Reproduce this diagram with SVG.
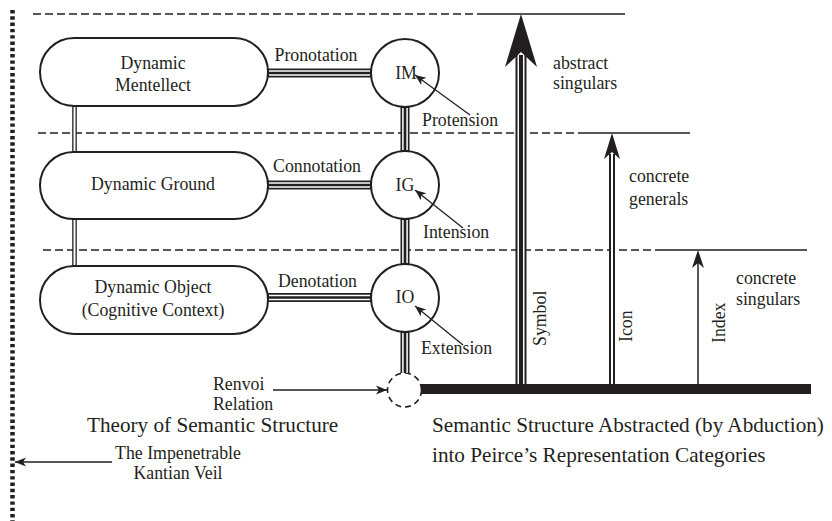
<svg xmlns="http://www.w3.org/2000/svg" width="832" height="521" viewBox="0 0 832 521">
<defs>
<style>
text{font-family:"Liberation Serif","Times New Roman",serif;font-size:17.8px;fill:#231f20}
.t{font-size:21.2px}
.m{text-anchor:middle}
.node{fill:#fff;stroke:#231f20;stroke-width:2}
.dash{fill:none;stroke:#231f20;stroke-width:1.3;stroke-dasharray:8 4}
.solid{fill:none;stroke:#231f20;stroke-width:1.6}
.k{stroke:#231f20;fill:none}
.w{stroke:#fff;fill:none}
.ptr{stroke:#231f20;stroke-width:1.3;fill:none;marker-end:url(#ah)}
.head{fill:#231f20;stroke:none}
</style>
<marker id="ah" viewBox="-12 -6 13 12" refX="0" refY="0" markerWidth="13" markerHeight="12" markerUnits="userSpaceOnUse" orient="auto">
<path d="M0,0 L-11,-4.5 L-8,0 L-11,4.5 Z" fill="#231f20"/>
</marker>
</defs>
<rect width="832" height="521" fill="#fff"/>
<g id="guides">
<line x1="12.5" y1="10" x2="12.5" y2="521" stroke="#231f20" stroke-width="4.5" stroke-dasharray="3.4 2.9"/>
<path class="dash" d="M33,14H482M38,133H584M43,250H657"/>
<path class="solid" d="M482,14H625M584,133H690M657,250H807"/>
</g>
<g id="dynamic-mentellect">
<rect class="node" x="40" y="38" width="228" height="68" rx="34"/>
<text class="m" x="153" y="69">Dynamic</text>
<text class="m" x="153" y="91">Mentellect</text>
</g>
<g id="dynamic-ground">
<rect class="node" x="40" y="152" width="228" height="67" rx="33.5"/>
<text class="m" x="153" y="190">Dynamic Ground</text>
</g>
<g id="dynamic-object">
<rect class="node" x="40" y="266" width="228" height="68" rx="34"/>
<text class="m" x="153" y="293">Dynamic Object</text>
<text class="m" x="153" y="316">(Cognitive Context)</text>
</g>
<g id="im">
<circle class="node" cx="405" cy="73" r="34"/>
<text class="m" x="406" y="79">IM</text>
</g>
<g id="ig">
<circle class="node" cx="405" cy="185" r="34"/>
<text class="m" x="405" y="191">IG</text>
</g>
<g id="io">
<circle class="node" cx="405" cy="298" r="34"/>
<text class="m" x="405" y="303">IO</text>
</g>
<g id="renvoi">
<circle cx="404.5" cy="390" r="17" fill="none" stroke="#231f20" stroke-width="1.6" stroke-dasharray="6 4"/>
</g>
<g id="connectors">
<path class="k" stroke-width="4.6" d="M74.5,106V152M74.5,219V266"/>
<path class="w" stroke-width="2" d="M74.5,107V151M74.5,220V265"/>
<path class="k" stroke-width="9" d="M268,73H371M268,185H371M268,297.5H371M405,107V151M405,219V264M405,332V373"/>
<path class="w" stroke-width="5.7" d="M269,73H370M269,185H370M269,297.5H370M405,108V150M405,220V263M405,333V373"/>
<path class="k" stroke-width="2.7" d="M268,73H371M268,185H371M268,297.5H371M405,107V151M405,219V264M405,332V373"/>
<path class="k" stroke-width="11" d="M521,55V384"/>
<path class="w" stroke-width="7" d="M521,55V384"/>
<path class="k" stroke-width="4" d="M521,55V384"/>
<path class="head" d="M521,14 L505,67 L521,52 L537,67 Z"/>
<path class="k" stroke-width="6" d="M612,154V384"/>
<path class="w" stroke-width="2" d="M612,154V384"/>
<path class="head" d="M612,133 L604,159 L612,152 L620,159 Z"/>
<path class="k" stroke-width="1.5" d="M698,262V384"/>
<path class="head" d="M698,250 L692,268 L698,263 L704,268 Z"/>
<path class="k" stroke-width="10" d="M421,389H811"/>
<path class="ptr" d="M470,115L415,75"/>
<path class="ptr" d="M463,228L415,190"/>
<path class="ptr" d="M463,345L415,306"/>
<path class="ptr" d="M273,390H387"/>
<path class="ptr" d="M112,462H15"/>
<text class="m" x="316" y="61">Pronotation</text>
<text class="m" x="317" y="172">Connotation</text>
<text class="m" x="317.5" y="287">Denotation</text>
<text x="422" y="126">Protension</text>
<text x="423" y="238">Intension</text>
<text x="421" y="354">Extension</text>
<text transform="translate(546,346) rotate(-90)">Symbol</text>
<text transform="translate(632,342) rotate(-90)">Icon</text>
<text transform="translate(725,343) rotate(-90)">Index</text>
</g>
<g id="labels">
<text x="553" y="69">abstract</text>
<text x="553" y="89">singulars</text>
<text x="629" y="182">concrete</text>
<text x="629" y="205">generals</text>
<text x="736" y="284">concrete</text>
<text x="736" y="305">singulars</text>
<text x="213" y="390">Renvoi</text>
<text x="213" y="410">Relation</text>
<text class="t" x="87" y="432">Theory of Semantic Structure</text>
<text class="t" x="432" y="432">Semantic Structure Abstracted (by Abduction)</text>
<text class="t" x="432" y="462">into Peirce’s Representation Categories</text>
<text class="m" x="178" y="459">The Impenetrable</text>
<text class="m" x="178" y="479">Kantian Veil</text>
</g>
</svg>
